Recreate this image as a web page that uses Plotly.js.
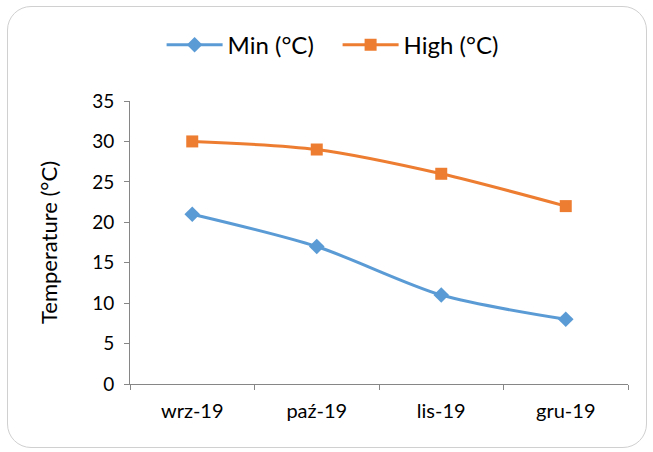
<!DOCTYPE html>
<html>
<head>
<meta charset="utf-8">
<script src="https://cdn.plot.ly/plotly-3.0.1.min.js"></script>
<style>
  html, body { margin: 0; padding: 0; background: #fff; }
  #wrap { position: relative; width: 653px; height: 452px; }
  #chart { width: 653px; height: 452px; }
  #frame { position: absolute; left: 7px; top: 6px; width: 640px; height: 442px;
           border: 1px solid #d0d0d0; border-radius: 24px; pointer-events: none; box-sizing: border-box; }
</style>
</head>
<body>
<div id="wrap">
  <div id="chart"></div>
  <div id="frame"></div>
</div>
<script>
const categories = ["wrz-19", "paź-19", "lis-19", "gru-19"];
const minTemp = [21, 17, 11, 8];
const highTemp = [30, 29, 26, 22];
const seriesNames = ["Min (°C)", "High (°C)"];
const yTitle = "Temperature (°C)";

const FONT = "Lato, 'Open Sans', sans-serif";

const traces = [
  {
    x: categories, y: minTemp, name: seriesNames[0], type: "scatter", mode: "lines+markers",
    line: { color: "#5B9BD5", width: 3, shape: "spline", smoothing: 0.8 },
    marker: { symbol: "diamond", size: 12, color: "#5B9BD5" }
  },
  {
    x: categories, y: highTemp, name: seriesNames[1], type: "scatter", mode: "lines+markers",
    line: { color: "#ED7D31", width: 3, shape: "spline", smoothing: 0.8 },
    marker: { symbol: "square", size: 12, color: "#ED7D31" }
  }
];

const layout = {
  width: 653, height: 452,
  margin: { l: 130, r: 25, t: 101, b: 68 },
  paper_bgcolor: "rgba(0,0,0,0)",
  plot_bgcolor: "rgba(0,0,0,0)",
  font: { family: FONT, size: 19, color: "#000" },
  showlegend: true,
  legend: {
    orientation: "h", x: 0.517, xanchor: "center", xref: "container",
    y: 0.9, yanchor: "middle", yref: "container",
    font: { size: 24, color: "#000" }, itemwidth: 56, traceorder: "normal",
    entrywidth: 105, entrywidthmode: "pixels"
  },
  xaxis: {
    type: "category", range: [-0.5, 3.5], showgrid: false, zeroline: false,
    showline: true, linecolor: "#868686", linewidth: 1,
    ticks: "outside", tickson: "boundaries", ticklen: 5, tickcolor: "#868686",
    tickfont: { size: 20 }, ticklabelstandoff: 9
  },
  yaxis: {
    range: [0, 35], dtick: 5, showgrid: false, zeroline: false,
    showline: true, linecolor: "#868686", linewidth: 1,
    ticks: "outside", ticklen: 5, tickcolor: "#868686",
    tickfont: { size: 19 }, ticklabelstandoff: 6,
    title: { text: yTitle, font: { size: 22 }, standoff: 28 }
  }
};

Plotly.newPlot("chart", traces, layout, { displayModeBar: false, staticPlot: true });
</script>
</body>
</html>
